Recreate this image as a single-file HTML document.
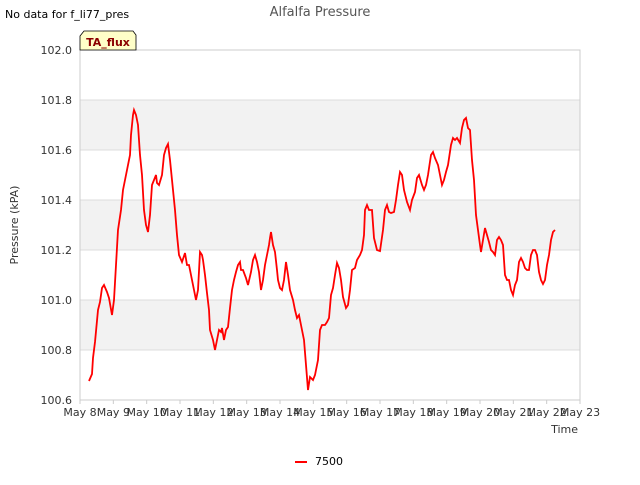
<!DOCTYPE html>
<html><head><meta charset="utf-8"><style>
body{margin:0;background:#fff;font-family:"Liberation Sans","DejaVu Sans",sans-serif}
</style></head><body>
<svg width="640" height="480" xmlns="http://www.w3.org/2000/svg" style="font-family:'DejaVu Sans','Liberation Sans',sans-serif">
<rect width="640" height="480" fill="#fff"/>
<g id="bands"></g>
<g id="grid"></g>
<rect x="80" y="50" width="500" height="350" fill="none" stroke="#ccc"/>
<g id="yt"></g>
<g id="xt"></g>
<path id="line" fill="none" stroke="#ff0000" stroke-width="1.8"/>
<text x="320" y="16" text-anchor="middle" font-size="13" fill="#555">Alfalfa Pressure</text>
<text x="5" y="18" font-size="11" fill="#000">No data for f_li77_pres</text>
<path d="M80,36 L84,31 L133,31 L136,35 L136,50 L80,50 Z" fill="#ffffc8" stroke="#000" stroke-width="0.8"/>
<text x="108" y="46" text-anchor="middle" font-size="11" font-weight="bold" fill="#8b0000">TA_flux</text>
<text x="18" y="225" text-anchor="middle" font-size="11" fill="#333" transform="rotate(-90 18 225)">Pressure (kPA)</text>
<text x="578" y="433" text-anchor="end" font-size="11" fill="#333">Time</text>
<line x1="295" y1="462" x2="307" y2="462" stroke="#ff0000" stroke-width="2"/>
<text x="315" y="465" font-size="11" fill="#000">7500</text>
</svg>
<script>
const dayLabels=["May 8","May 9","May 10","May 11","May 12","May 13","May 14","May 15","May 16","May 17","May 18","May 19","May 20","May 21","May 22","May 23"];
const yTicks=[100.6,100.8,101.0,101.2,101.4,101.6,101.8,102.0];
const days=[.27,.36,.39,.45,.54,.60,.66,.72,.81,.87,.96,1.02,1.08,1.14,1.23,1.29,1.35,1.41,1.50,1.53,1.59,1.62,1.68,1.74,1.80,1.86,1.92,1.98,2.04,2.10,2.16,2.22,2.28,2.31,2.37,2.46,2.52,2.58,2.64,2.70,2.76,2.85,2.91,2.97,3.06,3.15,3.21,3.27,3.33,3.42,3.48,3.54,3.60,3.66,3.69,3.75,3.81,3.87,3.90,3.99,4.05,4.11,4.17,4.23,4.26,4.32,4.38,4.44,4.50,4.56,4.62,4.68,4.74,4.80,4.83,4.89,4.98,5.04,5.13,5.19,5.25,5.31,5.37,5.43,5.49,5.55,5.61,5.67,5.70,5.73,5.79,5.85,5.91,5.94,6.00,6.06,6.12,6.18,6.24,6.30,6.39,6.45,6.51,6.57,6.66,6.72,6.78,6.84,6.90,6.99,7.05,7.14,7.20,7.26,7.35,7.41,7.47,7.53,7.59,7.65,7.71,7.77,7.83,7.89,7.98,8.04,8.10,8.16,8.25,8.31,8.40,8.46,8.52,8.55,8.61,8.67,8.76,8.82,8.91,9.00,9.09,9.15,9.21,9.27,9.33,9.42,9.48,9.54,9.60,9.66,9.72,9.81,9.90,9.96,10.05,10.11,10.17,10.26,10.32,10.38,10.44,10.53,10.59,10.65,10.74,10.80,10.86,10.92,10.98,11.04,11.13,11.19,11.25,11.31,11.40,11.46,11.52,11.58,11.64,11.70,11.76,11.82,11.88,11.94,12.00,12.03,12.09,12.15,12.21,12.27,12.33,12.39,12.45,12.51,12.57,12.63,12.69,12.75,12.81,12.87,12.93,12.99,13.05,13.11,13.17,13.23,13.29,13.35,13.41,13.47,13.53,13.59,13.65,13.71,13.77,13.83,13.89,13.95,14.01,14.07,14.13,14.19,14.25];
const pressure=[100.676,100.704,100.768,100.832,100.96,100.992,101.048,101.06,101.032,101.008,100.94,101.0,101.14,101.28,101.36,101.44,101.48,101.52,101.58,101.66,101.74,101.76,101.74,101.70,101.58,101.50,101.36,101.30,101.272,101.34,101.46,101.48,101.50,101.468,101.46,101.50,101.58,101.608,101.624,101.56,101.48,101.36,101.26,101.18,101.152,101.188,101.14,101.14,101.10,101.04,101.00,101.04,101.192,101.18,101.16,101.10,101.028,100.96,100.88,100.84,100.80,100.84,100.88,100.872,100.888,100.84,100.88,100.892,100.968,101.04,101.08,101.112,101.14,101.152,101.12,101.12,101.088,101.06,101.112,101.16,101.18,101.152,101.112,101.04,101.08,101.14,101.18,101.22,101.248,101.272,101.22,101.192,101.12,101.08,101.048,101.04,101.08,101.152,101.10,101.04,101.00,100.96,100.928,100.94,100.88,100.84,100.74,100.64,100.692,100.68,100.70,100.76,100.88,100.90,100.90,100.912,100.928,101.02,101.048,101.10,101.148,101.128,101.08,101.012,100.968,100.98,101.04,101.12,101.128,101.16,101.18,101.20,101.26,101.36,101.38,101.36,101.36,101.248,101.20,101.196,101.28,101.36,101.38,101.352,101.348,101.352,101.40,101.46,101.512,101.50,101.44,101.392,101.36,101.40,101.432,101.488,101.50,101.46,101.44,101.46,101.50,101.58,101.592,101.568,101.54,101.50,101.46,101.48,101.512,101.54,101.62,101.648,101.64,101.648,101.628,101.688,101.72,101.728,101.688,101.68,101.56,101.48,101.34,101.28,101.22,101.192,101.24,101.288,101.26,101.232,101.20,101.192,101.18,101.24,101.252,101.24,101.22,101.10,101.08,101.08,101.04,101.02,101.06,101.08,101.152,101.168,101.152,101.128,101.12,101.12,101.18,101.20,101.20,101.18,101.112,101.08,101.064,101.08,101.14,101.18,101.24,101.272,101.28];
const NS="http://www.w3.org/2000/svg";
const X0=80,X1=580,Y0=400,Y1=50,ymin=100.6,ymax=102.0;
const xs=d=>X0+d*(X1-X0)/(dayLabels.length-1);
const ys=v=>Y0-(v-ymin)/(ymax-ymin)*(Y0-Y1);
function mk(tag,attrs,parent){const e=document.createElementNS(NS,tag);for(const k in attrs)e.setAttribute(k,attrs[k]);parent.appendChild(e);return e;}
const bands=document.getElementById('bands'),grid=document.getElementById('grid'),yt=document.getElementById('yt'),xt=document.getElementById('xt');
for(let i=0;i<yTicks.length-1;i++){
  const r=mk('rect',{x:X0,y:ys(yTicks[i+1]),width:X1-X0,height:ys(yTicks[i])-ys(yTicks[i+1]),fill:(i%2===1)?'#f2f2f2':'#ffffff'},bands);
  
  
}
yTicks.forEach(v=>{
  const l=mk('line',{x1:X0,x2:X1,y1:ys(v),y2:ys(v),stroke:'#dcdcdc'},grid);
  
  
  const t=mk('text',{x:X0-8,y:ys(v)+4,'text-anchor':'end','font-size':'11',fill:'#333'},yt);
  t.textContent=v.toFixed(1);
  
  
});
dayLabels.forEach((s,i)=>{
  const tk=mk('line',{x1:xs(i),x2:xs(i),y1:Y0,y2:Y0+4,stroke:'#ccc'},xt);
  
  
  const t=mk('text',{x:xs(i),y:Y0+16,'text-anchor':'middle','font-size':'11',fill:'#333'},xt);
  t.textContent=s;
  
  
});
document.getElementById('line').setAttribute('d',days.map((d,i)=>(i?'L':'M')+xs(d).toFixed(1)+','+ys(pressure[i]).toFixed(1)).join(''));
</script>
</body></html>
